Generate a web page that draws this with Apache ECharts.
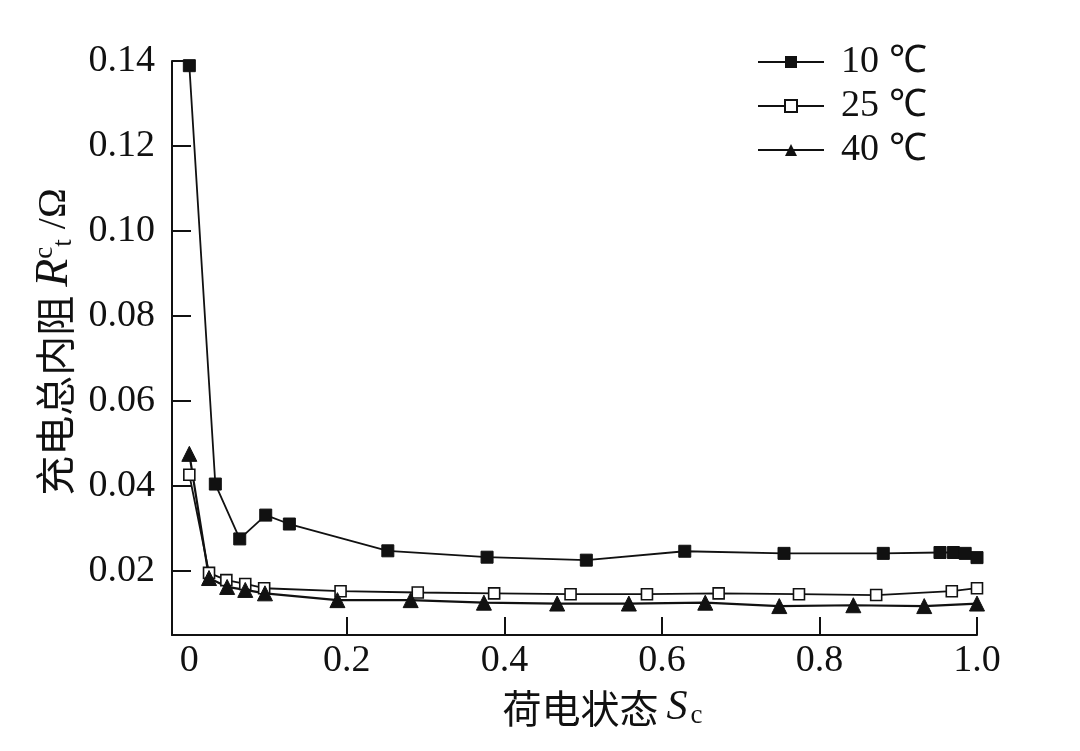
<!DOCTYPE html>
<html>
<head>
<meta charset="utf-8">
<script src="https://cdn.jsdelivr.net/npm/echarts@6/dist/echarts.min.js"></script>
<style>
  html, body { margin: 0; padding: 0; background: #fff; }
  #chart { width: 1080px; height: 751px; }
</style>
</head>
<body>
<div id="chart"></div>
<script>
// ======================
// DATOS
// ======================
const legendNames = ["10 ℃", "25 ℃", "40 ℃"];

const soc10 = [0, 0.033, 0.064, 0.097, 0.127, 0.252, 0.378, 0.504, 0.629, 0.755, 0.881, 0.953, 0.970, 0.985, 1.0];
const res10 = [0.1389, 0.0405, 0.0276, 0.0332, 0.0311, 0.0248, 0.0233, 0.0226, 0.0247, 0.0242, 0.0242, 0.0244, 0.0244, 0.0242, 0.0232];

const soc25 = [0, 0.025, 0.047, 0.071, 0.095, 0.192, 0.290, 0.387, 0.484, 0.581, 0.672, 0.774, 0.872, 0.968, 1.0];
const res25 = [0.0427, 0.0196, 0.0179, 0.0170, 0.0160, 0.0153, 0.0150, 0.0148, 0.0146, 0.0146, 0.0148, 0.0146, 0.0144, 0.0153, 0.0160];

const soc40 = [0, 0.025, 0.048, 0.071, 0.096, 0.188, 0.281, 0.374, 0.467, 0.558, 0.655, 0.749, 0.843, 0.933, 1.0];
const res40 = [0.0476, 0.0184, 0.0163, 0.0156, 0.0148, 0.0132, 0.0132, 0.0126, 0.0124, 0.0124, 0.0126, 0.0118, 0.0120, 0.0118, 0.0124];

const xTickValues = [0, 0.2, 0.4, 0.6, 0.8, 1.0];
const xTickLabels = ["0", "0.2", "0.4", "0.6", "0.8", "1.0"];
const yTickValues = [0.02, 0.04, 0.06, 0.08, 0.10, 0.12, 0.14];
const yTickLabels = ["0.02", "0.04", "0.06", "0.08", "0.10", "0.12", "0.14"];

// ======================
// ESTILO
// ======================
const INK = "#111";
const SERIF = "'Liberation Serif', 'Times New Roman', serif";
const CJK = "'Noto Sans CJK SC', sans-serif";

const pairs = (xs, ys) => xs.map((x, i) => [x, ys[i]]);
const pick = (vals, labels) => v => labels[vals.findIndex(t => Math.abs(t - v) < 1e-6)];

const chart = echarts.init(document.getElementById("chart"));

chart.setOption({
    animation: false,
    backgroundColor: "#fff",
    grid: { left: 172, right: 103, top: 61, bottom: 116 },
    legend: {
        orient: "vertical",
        left: 752,
        top: 38,
        itemWidth: 66,
        itemHeight: 15,
        itemGap: 6,
        textStyle: {
            color: INK,
            fontFamily: SERIF,
            fontSize: 38,
            padding: [0, 0, 0, 12]
        },
        data: legendNames
    },
    xAxis: {
        type: "value",
        min: -0.022,
        max: 1.0,
        splitLine: { show: false },
        axisLine: { onZero: false, lineStyle: { color: INK, width: 2 } },
        axisTick: {
            inside: true,
            length: 18,
            customValues: xTickValues.slice(1),
            lineStyle: { color: INK, width: 2 }
        },
        axisLabel: {
            customValues: xTickValues,
            color: INK,
            fontFamily: SERIF,
            fontSize: 38,
            margin: 7,
            formatter: pick(xTickValues, xTickLabels)
        },
        name: "{a|荷电状态}{s|S}{c|c}",
        nameLocation: "middle",
        nameGap: 52,
        nameTextStyle: {
            padding: [0, 0, 0, 56],
            rich: {
                a: { fontFamily: CJK, fontSize: 39, color: INK },
                s: { fontFamily: SERIF, fontStyle: "italic", fontSize: 42, color: INK, padding: [0, 0, 0, 8] },
                c: { fontFamily: SERIF, fontSize: 27, color: INK, verticalAlign: "bottom", padding: [0, 0, 0, 3] }
            }
        }
    },
    yAxis: {
        type: "value",
        min: 0.005,
        max: 0.14,
        splitLine: { show: false },
        axisLine: { onZero: false, lineStyle: { color: INK, width: 2 } },
        axisTick: {
            inside: true,
            length: 19,
            customValues: yTickValues,
            lineStyle: { color: INK, width: 2 }
        },
        axisLabel: {
            customValues: yTickValues,
            color: INK,
            fontFamily: SERIF,
            fontSize: 38,
            margin: 17,
            formatter: pick(yTickValues, yTickLabels)
        },
        name: "{a|充电总内阻 }{r|R}{sup|c}{sub|t}{o| /Ω}",
        nameLocation: "middle",
        nameRotate: 90,
        nameGap: 88,
        nameTextStyle: {
            padding: [0, 0, 0, 12],
            rich: {
                a: { fontFamily: CJK, fontSize: 40, color: INK },
                r: { fontFamily: SERIF, fontStyle: "italic", fontSize: 46, color: INK },
                sup: { fontFamily: SERIF, fontSize: 27, color: INK, verticalAlign: "top" },
                sub: { fontFamily: SERIF, fontSize: 27, color: INK, verticalAlign: "bottom" },
                o: { fontFamily: SERIF, fontSize: 40, color: INK }
            }
        }
    },
    series: [
        {
            name: legendNames[0],
            type: "line",
            data: pairs(soc10, res10),
            symbol: "rect",
            symbolSize: 12,
            itemStyle: { color: INK, borderColor: INK },
            lineStyle: { color: INK, width: 1.8 }
        },
        {
            name: legendNames[1],
            type: "line",
            data: pairs(soc25, res25),
            symbol: "rect",
            symbolSize: 11,
            itemStyle: { color: "#fff", borderColor: INK, borderWidth: 1.6 },
            lineStyle: { color: INK, width: 1.8 }
        },
        {
            name: legendNames[2],
            type: "line",
            data: pairs(soc40, res40),
            symbol: "triangle",
            symbolSize: 15,
            itemStyle: { color: INK, borderColor: INK },
            lineStyle: { color: INK, width: 2.2 }
        }
    ]
});

window.addEventListener("resize", () => chart.resize());
</script>
</body>
</html>
